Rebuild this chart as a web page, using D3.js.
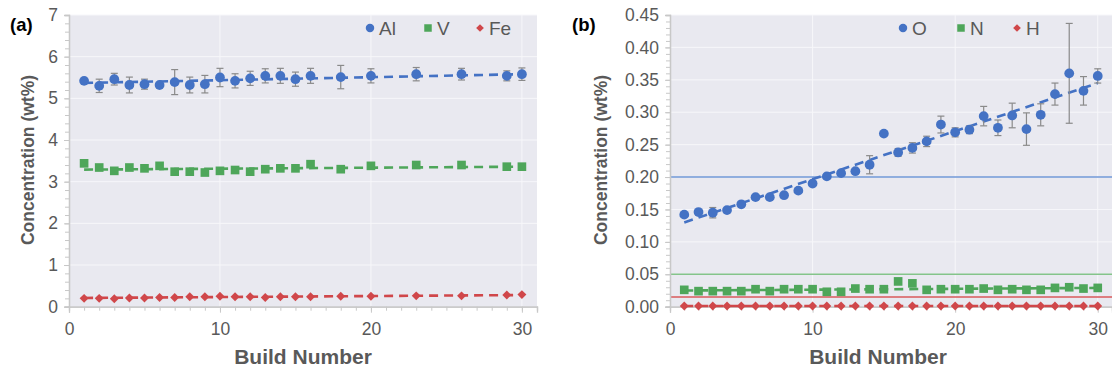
<!DOCTYPE html>
<html>
<head>
<meta charset="utf-8">
<script src="https://cdnjs.cloudflare.com/ajax/libs/d3/7.8.5/d3.min.js"></script>
<style>
  body { margin: 0; background: #fff; }
  text { font-family: "Liberation Sans", Arial, sans-serif; }
</style>
</head>
<body>
<script>
// panel (a): alloying elements
var buildsA = [1,2,3,4,5,6,7,8,9,10,11,12,13,14,15,16,18,20,23,26,29,30];
var alVals = [5.42,5.30,5.46,5.32,5.34,5.32,5.39,5.32,5.34,5.50,5.42,5.48,5.54,5.54,5.46,5.54,5.51,5.54,5.58,5.58,5.54,5.58];
var alErr  = [0.03,0.16,0.14,0.19,0.12,0.03,0.30,0.19,0.21,0.22,0.17,0.17,0.17,0.18,0.17,0.18,0.28,0.17,0.16,0.14,0.12,0.15];
var vVals  = [3.44,3.34,3.26,3.34,3.32,3.38,3.24,3.24,3.22,3.26,3.28,3.24,3.30,3.32,3.32,3.42,3.30,3.38,3.40,3.40,3.36,3.36];
var feVals = [0.20,0.20,0.19,0.21,0.21,0.22,0.22,0.24,0.24,0.25,0.24,0.24,0.22,0.24,0.24,0.24,0.25,0.25,0.26,0.26,0.28,0.29];
var alTrend = [5.37, 5.58], vTrend = [3.29, 3.36], feTrend = [0.21, 0.28];

// panel (b): interstitials
var buildsB = d3.range(1, 31);
var oVals = [0.142,0.146,0.145,0.149,0.158,0.169,0.169,0.172,0.179,0.190,0.201,0.206,0.209,0.219,0.267,0.238,0.245,0.255,0.281,0.269,0.273,0.294,0.276,0.295,0.274,0.296,0.328,0.360,0.333,0.356];
var oErr  = [0.003,0.002,0.008,0.002,0.002,0.002,0.002,0.002,0.002,0.002,0.002,0.003,0.003,0.014,0,0.006,0.008,0.008,0.013,0.007,0.006,0.015,0.012,0.019,0.025,0.017,0.017,0.077,0.022,0.011];
var nVals = [0.026,0.024,0.024,0.024,0.024,0.027,0.024,0.027,0.027,0.027,0.023,0.023,0.028,0.027,0.027,0.039,0.036,0.026,0.027,0.027,0.027,0.028,0.026,0.027,0.026,0.026,0.029,0.030,0.028,0.029];
var hVals = [0.001,0.001,0.001,0.001,0.001,0.001,0.001,0.001,0.001,0.001,0.001,0.001,0.001,0.001,0.001,0.001,0.001,0.001,0.001,0.001,0.001,0.001,0.001,0.001,0.001,0.001,0.001,0.001,0.001,0.001];
var oTrend = [0.13, 0.345], nTrend = [0.025, 0.029], hTrend = [0.001, 0.001];
var limits = [0.20, 0.05, 0.015];

var blue = "#4472c4", green = "#4ea65a", red = "#d0474a";
var grey = "#595959";

var svg = d3.select("body").append("svg")
  .attr("width", 1112).attr("height", 371);

// diamond = square turned 45deg
function marker(sel, s, scale) {
  var sz = s.size * (scale || 1);
  sel.attr("d", d3.symbol().type(s.sym === "diamond" ? d3.symbolSquare : s.sym).size(sz))
    .attr("fill", s.color);
}

function panel(o) {
  var x = d3.scaleLinear().domain([0, 31]).range([o.left, o.right]);
  var y = d3.scaleLinear().domain([0, o.ymax]).range([306.7, 15]);
  var g = svg.append("g");

  g.append("rect").attr("x", o.left).attr("y", 15)
    .attr("width", o.right - o.left).attr("height", 306.7 - 15)
    .attr("fill", "#e9e9f0");

  // grid
  g.selectAll(".hg").data(o.yticks.slice(1)).enter().append("line")
    .attr("x1", o.left).attr("x2", o.right)
    .attr("y1", function(d){return y(d);}).attr("y2", function(d){return y(d);})
    .attr("stroke", "#f7f7fa").attr("stroke-width", 1);
  g.selectAll(".vg").data([10,20,30]).enter().append("line")
    .attr("x1", function(d){return x(d);}).attr("x2", function(d){return x(d);})
    .attr("y1", 15).attr("y2", 306.7)
    .attr("stroke", "#f7f7fa").attr("stroke-width", 1);

  // limit lines
  if (o.limits) {
    g.selectAll(".lim").data(o.limits).enter().append("line")
      .attr("x1", o.left).attr("x2", o.right)
      .attr("y1", function(d){return y(d.v);}).attr("y2", function(d){return y(d.v);})
      .attr("stroke", function(d){return d.c;}).attr("stroke-width", 1.4);
  }

  // axes
  var yAx = d3.axisLeft(y).tickValues(o.yticks).tickFormat(o.fmt).tickSize(5).tickPadding(6);
  var yMinor = d3.axisLeft(y).tickValues(d3.range(0, o.ymax + 1e-9, o.minor)).tickFormat("").tickSize(4);
  var xAx = d3.axisBottom(x).tickValues([0,10,20,30]).tickSize(6).tickPadding(10);
  var xMinor = d3.axisBottom(x).tickValues(d3.range(0, 32, 1)).tickFormat("").tickSize(4);

  [g.append("g").attr("transform", "translate(" + o.left + ",0)").call(yMinor),
   g.append("g").attr("transform", "translate(" + o.left + ",0)").call(yAx),
   g.append("g").attr("transform", "translate(0,306.7)").call(xMinor),
   g.append("g").attr("transform", "translate(0,306.7)").call(xAx)].forEach(function(a) {
    a.select(".domain").attr("stroke", "#c8c8c8").attr("stroke-width", 1.3);
    a.selectAll("line").attr("stroke", "#c8c8c8");
    a.selectAll("text").attr("fill", grey).style("font-size", "17.5px")
      .style("font-family", "'Liberation Sans', Arial, sans-serif");
  });

  // trend lines
  o.series.forEach(function(s) {
    g.append("line")
      .attr("x1", x(1)).attr("x2", x(30))
      .attr("y1", y(s.trend[0])).attr("y2", y(s.trend[1]))
      .attr("stroke", s.color).attr("stroke-width", 2.6)
      .attr("stroke-dasharray", "9,6");
  });

  // error bars
  o.series.forEach(function(s) {
    if (!s.err) return;
    var eb = g.selectAll(null).data(o.builds.map(function(b, i){return {b: b, v: s.vals[i], e: s.err[i]};})
      .filter(function(d){return d.e > 0;})).enter().append("g").attr("stroke", "#8a8a8a").attr("stroke-width", 1.2);
    eb.append("line").attr("x1", function(d){return x(d.b);}).attr("x2", function(d){return x(d.b);})
      .attr("y1", function(d){return y(d.v - d.e);}).attr("y2", function(d){return y(d.v + d.e);});
    eb.append("line").attr("x1", function(d){return x(d.b) - 3.5;}).attr("x2", function(d){return x(d.b) + 3.5;})
      .attr("y1", function(d){return y(d.v - d.e);}).attr("y2", function(d){return y(d.v - d.e);});
    eb.append("line").attr("x1", function(d){return x(d.b) - 3.5;}).attr("x2", function(d){return x(d.b) + 3.5;})
      .attr("y1", function(d){return y(d.v + d.e);}).attr("y2", function(d){return y(d.v + d.e);});
  });

  // markers
  o.series.forEach(function(s) {
    var rot = s.sym === "diamond" ? " rotate(45)" : "";
    g.selectAll(null).data(o.builds.map(function(b, i){return {b: b, v: s.vals[i]};})).enter()
      .append("path")
      .attr("transform", function(d){return "translate(" + x(d.b) + "," + y(d.v) + ")" + rot;})
      .call(marker, s);
  });

  // legend
  var lg = g.append("g");
  o.series.forEach(function(s, i) {
    var lx = o.legendX[i];
    var rot = s.sym === "diamond" ? " rotate(45)" : "";
    lg.append("path").attr("transform", "translate(" + lx + ",28)" + rot).call(marker, s, 0.75);
    lg.append("text").attr("x", lx + 9).attr("y", 34.5).text(s.name)
      .attr("fill", grey).style("font-size", "19px");
  });

  // labels
  g.append("text").attr("x", o.tagX).attr("y", 31).text(o.tag)
    .attr("fill", "#000").style("font-size", "18.5px").style("font-weight", "bold");
  g.append("text").attr("transform", "translate(" + o.ylabX + ",160) rotate(-90)")
    .attr("text-anchor", "middle").text("Concentration (wt%)")
    .attr("fill", grey).style("font-size", "17.5px").style("font-weight", "bold");
  g.append("text").attr("x", (o.left + o.right) / 2 + o.xlabDx).attr("y", 364)
    .attr("text-anchor", "middle").text("Build Number")
    .attr("fill", grey).style("font-size", "21px").style("font-weight", "bold");
}

panel({
  left: 69, right: 537, ymax: 7, yticks: [0,1,2,3,4,5,6,7], minor: 0.2, fmt: d3.format("d"),
  builds: buildsA, tag: "(a)", tagX: 10, ylabX: 34, xlabDx: 0,
  legendX: [370, 428, 480],
  series: [
    {name: "Al", vals: alVals, err: alErr, trend: alTrend, color: blue, sym: d3.symbolCircle, size: 75},
    {name: "V", vals: vVals, trend: vTrend, color: green, sym: d3.symbolSquare, size: 75},
    {name: "Fe", vals: feVals, trend: feTrend, color: red, sym: "diamond", size: 40}
  ]
});

panel({
  left: 670, right: 1112, ymax: 0.45, yticks: d3.range(0, 0.4501, 0.05), minor: 0.01, fmt: d3.format(".2f"),
  builds: buildsB, tag: "(b)", tagX: 572, ylabX: 607, xlabDx: -13,
  legendX: [903, 961, 1017],
  limits: [{v: limits[0], c: "#6f97d6"}, {v: limits[1], c: "#84c48a"}, {v: limits[2], c: "#d8595b"}],
  series: [
    {name: "O", vals: oVals, err: oErr, trend: oTrend, color: blue, sym: d3.symbolCircle, size: 75},
    {name: "N", vals: nVals, trend: nTrend, color: green, sym: d3.symbolSquare, size: 75},
    {name: "H", vals: hVals, trend: hTrend, color: red, sym: "diamond", size: 40}
  ]
});
</script>
</body>
</html>
